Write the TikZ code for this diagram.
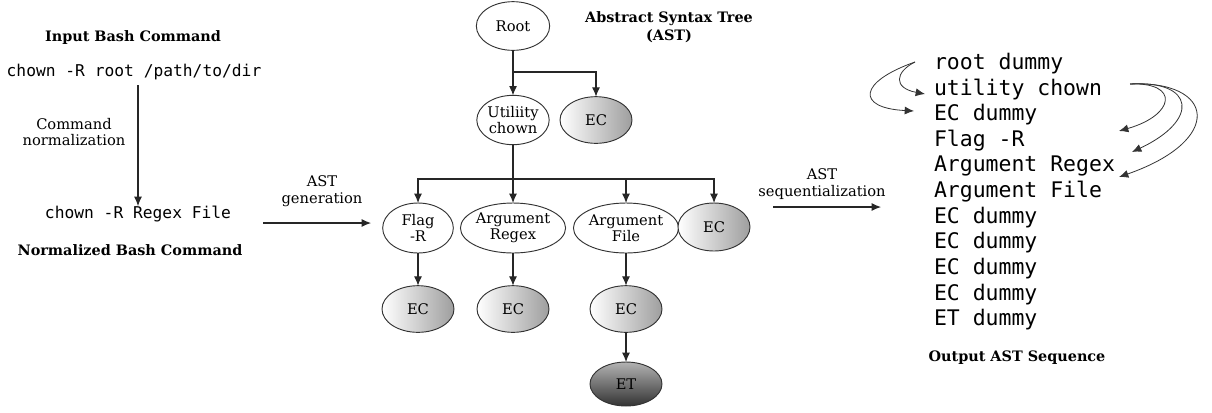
\documentclass[tikz,border=0pt]{standalone}
\usepackage{fontspec}
\setmainfont{DejaVu Serif}
\setmonofont{DejaVu Sans Mono}
\usetikzlibrary{arrows.meta,shapes.geometric,calc}
\begin{document}
\begin{tikzpicture}[x=0.75pt,y=-0.75pt,
  every node/.style={inner sep=0pt,outer sep=0pt},
  lbl/.style={font=\fontsize{11}{12.5}\selectfont,align=center},
  head/.style={font=\fontsize{10.8}{13.5}\selectfont\bfseries,align=center},
  code/.style={font=\fontsize{12.2}{15}\selectfont\ttfamily},
  seq/.style={font=\fontsize{16.1}{19}\selectfont\ttfamily,anchor=west},
  ell/.style={ellipse,draw=black!80,line width=0.7pt,font=\fontsize{11}{12}\selectfont,align=center,minimum width=54pt,minimum height=35pt},
  ecn/.style={ell,left color=white,right color=black!38},
  etn/.style={ell,top color=black!30,bottom color=black!80},
  arr/.style={-{Latex[length=7pt,width=6pt]},line width=0.8pt,draw=black!85},
  carr/.style={-{Latex[length=7pt,width=6pt]},line width=0.6pt,draw=black!80}
]
\useasboundingbox (0,0) rectangle (1212,412);

% left part
\node[head] (inh) at (133,38) {Input Bash Command};
\node[code] (in) at (134,72) {chown -R root /path/to/dir};
\node[lbl] (cn) at (74,132) {Command\\normalization};
\node[code] (norm) at (138,214) {chown -R Regex File};
\node[head] (normh) at (130,250) {Normalized Bash Command};
\draw[arr] (norm.north |- 0,85) -- (norm.north);

\node[lbl] (gen) at (322,191) {AST\\generation};
\coordinate (g1) at (263,223);
\coordinate (g2) at (371,223);
\draw[arr] (g1) -- (g2);

% tree
\node[head] (asth) at (669,27) {Abstract Syntax Tree\\(AST)};
\node[ell,minimum width=55pt,minimum height=36.5pt] (root) at (513,26) {Root};
\node[ell,minimum height=37pt] (util) at (513,120) {Utiliity\\chown};
\node[ecn] (ec0) at (596,120) {EC};
\coordinate (b1) at (513,72);
\draw[arr] (root.south) -- (util.north);
\draw[arr] (b1) -| (ec0.north);

\node[ell,minimum width=53pt,minimum height=37.5pt] (flag) at (418,228) {Flag\\-R};
\node[ell,minimum width=63pt,minimum height=37.5pt] (areg) at (513,228) {Argument\\Regex};
\node[ell,minimum width=64pt,minimum height=37.5pt] (afile) at (626,228) {Argument\\File};
\node[ecn,minimum height=36pt] (ec1) at (714,227) {EC};
\coordinate (b2) at (513,179);
\draw[arr] (util.south) -- (areg.north);
\draw[arr] (b2) -| (flag.north);
\draw[arr] (b2) -| (afile.north);
\draw[arr] (b2) -| (ec1.north);

\node[ecn] (ec2) at (418,309) {EC};
\node[ecn] (ec3) at (513,309) {EC};
\node[ecn] (ec4) at (626,309) {EC};
\node[etn,minimum height=33pt] (et) at (626,384) {ET};
\draw[arr] (flag.south) -- (ec2.north);
\draw[arr] (areg.south) -- (ec3.north);
\draw[arr] (afile.south) -- (ec4.north);
\draw[arr] (ec4.south) -- (et.north);

% sequentialization
\node[lbl] (seqlbl) at (822,184) {AST\\sequentialization};
\coordinate (s1) at (773,207);
\coordinate (s2) at (881,207);
\draw[arr] (s1) -- (s2);

% output sequence
\node[seq] (l1) at (934,64) {root dummy};
\node[seq] (l2) at (934,90) {utility chown};
\node[seq] (l3) at (934,115) {EC dummy};
\node[seq] (l4) at (934,141) {Flag -R};
\node[seq] (l5) at (934,166) {Argument Regex};
\node[seq] (l6) at (934,192) {Argument File};
\node[seq] (l7) at (934,218) {EC dummy};
\node[seq] (l8) at (934,243) {EC dummy};
\node[seq] (l9) at (934,269) {EC dummy};
\node[seq] (l10) at (934,295) {EC dummy};
\node[seq] (l11) at (934,320) {ET dummy};
\node[head] (outh) at (1017,358) {Output AST Sequence};

% curved arrows left
\coordinate (ls) at (915,62);
\coordinate (le1) at (925,94);
\coordinate (le2) at (914,111);
\draw[carr] (ls) .. controls (895,72) and (893,88) .. (le1);
\draw[carr] (ls) .. controls (858,82) and (856,108) .. (le2);

% curved arrows right
\coordinate (rs) at (1130,84);
\coordinate (re1) at (1119,131);
\coordinate (re2) at (1132,152);
\coordinate (re3) at (1119,177);
\draw[carr] (rs) .. controls (1180,82) and (1175,115) .. (re1);
\draw[carr] (rs) .. controls (1195,80) and (1200,120) .. (re2);
\draw[carr] (rs) .. controls (1215,80) and (1225,140) .. (re3);
\end{tikzpicture}
\end{document}
